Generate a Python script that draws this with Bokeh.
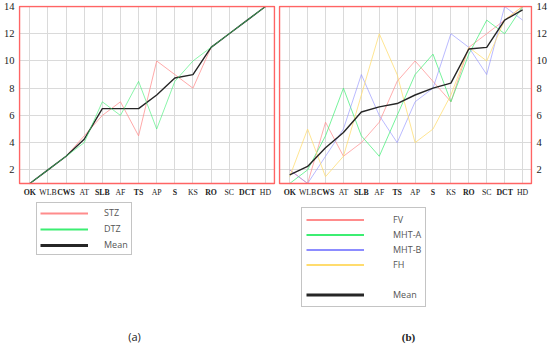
from bokeh.plotting import figure
from bokeh.models import (Range1d, FixedTicker, Legend, LegendItem, LabelSet,
                          Label, ColumnDataSource, BoxAnnotation)
from bokeh.layouts import row
from bokeh.embed import file_html
from bokeh.resources import INLINE

# ---------------- data ----------------
cats = ["OK", "WLB", "CWS", "AT", "SLB", "AF", "TS", "AP", "S", "KS", "RO", "SC", "DCT", "HD"]
bold_cats = ["OK", "CWS", "SLB", "TS", "S", "RO", "DCT"]
y_ticks = [2, 4, 6, 8, 10, 12, 14]

# panel (a)
stz = [1, 2, 3, 4.5, 6, 7, 4.5, 10, 9, 8, 11, 12, 13, 14]
dtz = [1, 2, 3, 4, 7, 6, 8.5, 5, 8.5, 10, 11, 12, 13, 14]
mean_a = [1, 2, 3, 4.25, 6.5, 6.5, 6.5, 7.5, 8.75, 9, 11, 12, 13, 14]

# panel (b)
fv = [2, 1, 5.5, 3, 4, 5.5, 8.5, 10, 8.5, 7, 11, 12, 13, 14]
mht_a = [1, 2, 4.5, 8, 4.5, 3, 6, 9, 10.5, 7, 10.5, 13, 12, 14]
mht_b = [2, 1, 3, 5, 9, 6, 4, 7, 8, 12, 11, 9, 14, 13]
fh = [1.5, 5, 1.5, 3, 7.5, 12, 9, 4, 5, 7.5, 11, 10, 13, 14]
mean_b = [1.625, 2.25, 3.625, 4.75, 6.25, 6.625, 6.875, 7.5, 8.0, 8.375, 10.875, 11.0, 13.0, 13.75]

xs = list(range(len(cats)))

C_PINK = "#ff8c8c"
C_GREEN = "#3cee72"
C_BLUE = "#8c8cff"
C_YELLOW = "#ffdc6e"
C_MEAN = "#262626"
FRAME = "#ff6464"
SERIF = "Liberation Serif"
SANS = "Open Sans"

H = 346
TOP = 5                       # px above the plotting frame
Y_LO, Y_HI = 1, 14            # chart value range
PX_PER_UNIT = 177 / 13.0      # chart box is 177 px tall
BELOW_PX = H - TOP - 1 - 177  # room under the chart box for labels / legend / caption
X_LO, X_HI = -0.57, 13.5


def base_fig(width, yloc, bl, br):
    xpad = 0.055
    ypad = 1 / PX_PER_UNIT
    p = figure(width=width, height=H, output_backend="svg", toolbar_location=None,
               x_range=Range1d(X_LO - xpad, X_HI + xpad),
               y_range=Range1d(Y_LO - BELOW_PX / PX_PER_UNIT, Y_HI + ypad),
               y_axis_location=yloc, min_border_left=bl, min_border_right=br,
               min_border_top=TOP, min_border_bottom=0)
    p.outline_line_color = None
    p.xaxis.visible = False
    p.xaxis.ticker = FixedTicker(ticks=xs)
    p.xgrid.ticker = FixedTicker(ticks=xs)
    p.xgrid.cross_bounds = (Y_LO, Y_HI)
    p.yaxis.ticker = FixedTicker(ticks=y_ticks)
    p.ygrid.ticker = FixedTicker(ticks=[t for t in y_ticks if t < Y_HI])
    p.ygrid.cross_bounds = (X_LO, X_HI)
    for g in (p.xgrid, p.ygrid):
        g.grid_line_color = "#dadada"
        g.grid_line_width = 1
    ax = p.yaxis[0]
    ax.axis_line_color = None
    ax.major_tick_line_color = None
    ax.minor_tick_line_color = None
    ax.major_tick_out = 0
    ax.major_tick_in = 0
    ax.minor_tick_out = 0
    ax.minor_tick_in = 0
    ax.major_label_standoff = 4
    ax.major_label_text_font = SERIF
    ax.major_label_text_font_size = "10.5px"
    ax.major_label_text_color = "#222222"
    p.background_fill_color = "white"
    p.border_fill_color = "white"

    p.add_layout(BoxAnnotation(left=X_LO, right=X_HI, bottom=Y_LO, top=Y_HI,
                               fill_alpha=0, line_color=FRAME, line_alpha=1,
                               line_width=1.5))

    # category labels (alternating bold / normal)
    ylab = Y_LO - 9 / PX_PER_UNIT
    bsrc = ColumnDataSource(dict(x=[i for i, c in enumerate(cats) if c in bold_cats],
                                 t=[c for c in cats if c in bold_cats]))
    nsrc = ColumnDataSource(dict(x=[i for i, c in enumerate(cats) if c not in bold_cats],
                                 t=[c for c in cats if c not in bold_cats]))
    for src, style in ((bsrc, "bold"), (nsrc, "normal")):
        ls = LabelSet(x="x", y=ylab, text="t", source=src,
                      text_align="center", text_baseline="middle", text_font=SERIF,
                      text_font_size="7.8px", text_font_style=style, text_color="#222222")
        p.add_layout(ls)
    return p


def make_legend(p, entries, loc, pad, lh, gw, standoff, spacing):
    items = []
    for label, color, lw in entries:
        # one-point line: draws nothing in the chart, only supplies the legend swatch
        r = p.line(xs[:1], [Y_LO], line_color=(color or "white"), line_width=lw,
                   line_alpha=(0 if color is None else 1))
        items.append(LegendItem(label=label, renderers=[r]))
    lg = Legend(items=items, location=loc, padding=pad, spacing=spacing, margin=0,
                label_height=lh, glyph_height=lh, glyph_width=gw, label_standoff=standoff,
                label_text_font=SANS, label_text_font_size="9px",
                label_text_color="#555555", border_line_color="#8a8a8a",
                border_line_width=1, background_fill_color="white",
                background_fill_alpha=1)
    p.add_layout(lg, "center")


# ---------------- panel (a) ----------------
p1 = base_fig(276, "left", 16, 1)
p1.line(xs, stz, line_color=C_PINK, line_width=1, line_alpha=0.75)
p1.line(xs, mean_a, line_color=C_MEAN, line_width=1.4)
p1.line(xs, dtz, line_color=C_GREEN, line_width=1, line_alpha=0.6)
make_legend(p1, [("STZ", C_PINK, 2), ("DTZ", C_GREEN, 2), ("Mean", C_MEAN, 3)],
            (18, 91), 3, 12, 48, 16, 3)
p1.add_layout(Label(x=116, y=10, x_units="screen", y_units="screen", text="(a)",
                    text_align="center", text_baseline="middle", text_font=SANS,
                    text_font_size="11px", text_color="#222222"))

# ---------------- panel (b) ----------------
p2 = base_fig(274, "right", 2, 15)
p2.line(xs, fv, line_color=C_PINK, line_width=1, line_alpha=0.7)
p2.line(xs, mht_a, line_color=C_GREEN, line_width=1, line_alpha=0.7)
p2.line(xs, mht_b, line_color=C_BLUE, line_width=1, line_alpha=0.6)
p2.line(xs, fh, line_color=C_YELLOW, line_width=1, line_alpha=0.75)
p2.line(xs, mean_b, line_color=C_MEAN, line_width=1.4)
make_legend(p2, [("FV", C_PINK, 2), ("MHT-A", C_GREEN, 2), ("MHT-B", C_BLUE, 2),
                 ("FH", C_YELLOW, 2), (" ", None, 1), ("Mean", C_MEAN, 3)],
            (23, 39), 4, 15, 58, 29, 0)
p2.add_layout(Label(x=130, y=10, x_units="screen", y_units="screen", text="(b)",
                    text_align="center", text_baseline="middle", text_font=SERIF,
                    text_font_style="bold", text_font_size="11px", text_color="#222222"))

layout = row(p1, p2, spacing=0)
open("out.html", "w").write(file_html(layout, INLINE))
